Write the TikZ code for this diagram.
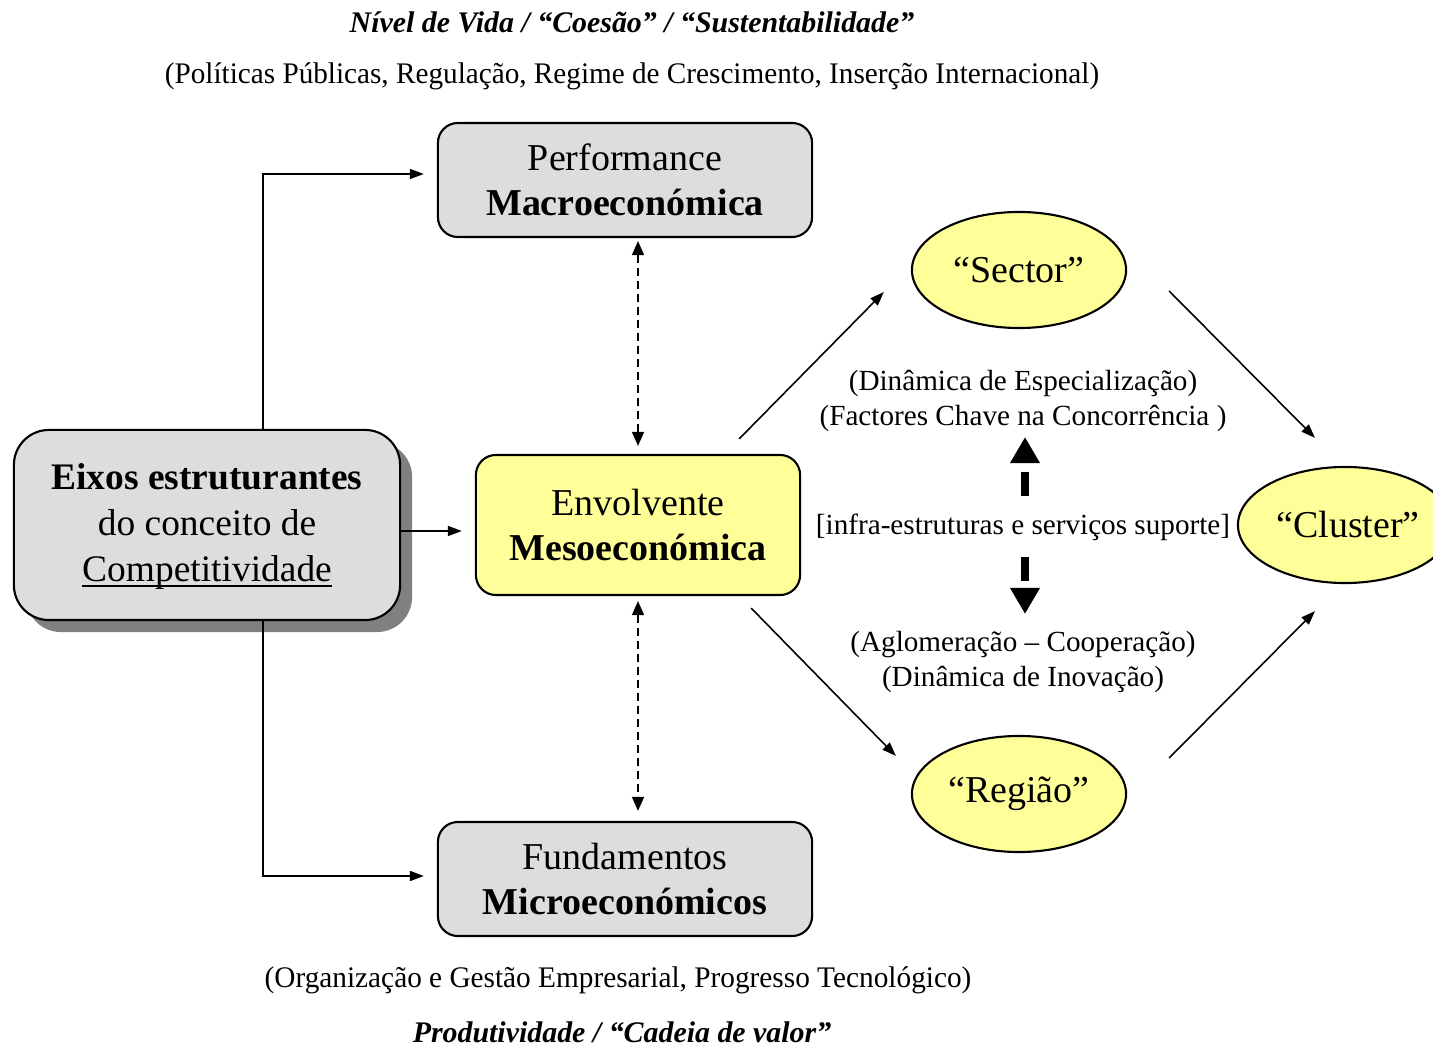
\documentclass[tikz,border=0pt]{standalone}
\usepackage{fontspec}
\setmainfont{Liberation Serif}
\usetikzlibrary{positioning,shapes.geometric,arrows.meta,shadows}

\definecolor{boxgray}{HTML}{DDDDDD}
\definecolor{mesoyellow}{HTML}{FFFF99}
\definecolor{shadowgray}{HTML}{808080}
\newcommand{\boxfont}{\fontsize{10.8}{12.8}\selectfont}
\newcommand{\notefont}{\fontsize{8.3}{10}\selectfont}
\newcommand{\underlined}[1]{\setbox0\hbox{#1}\rlap{\rule[-0.14em]{\wd0}{0.06em}}\box0}

\tikzset{
  block/.style={draw, line width=0.6pt, rounded corners=0.2cm, fill=boxgray,
    minimum width=3.74cm, minimum height=1.14cm, align=center, font=\boxfont, inner sep=0pt},
  blob/.style={draw, ellipse, line width=0.6pt, fill=mesoyellow,
    minimum width=2.14cm, minimum height=1.16cm, inner sep=0pt, font=\boxfont},
  note/.style={align=center, font=\notefont, inner sep=0pt},
  arr/.style={line width=0.45pt, -{Triangle[length=0.14cm,width=0.1cm]}},
  twoway/.style={line width=0.45pt, dash pattern=on 0.08cm off 0.05cm,
    {Triangle[length=0.14cm,width=0.12cm]}-{Triangle[length=0.14cm,width=0.12cm]}},
  bigarrow/.style={line width=0.08cm, dash pattern=on 0.24cm off 1cm,
    -{Triangle[length=0.26cm,width=0.28cm]}}
}

\begin{document}
\begin{tikzpicture}[x=0.01cm,y=-0.01cm]
  \useasboundingbox (0,0) rectangle (1433,1046);
  \clip (0,0) rectangle (1433,1046);

  % Nodes
  \node[note, font=\fontsize{8.5}{10}\selectfont\bfseries\itshape] (vida) at (632,22) {Nível de Vida / “Coesão” / “Sustentabilidade”};
  \node[note, font=\fontsize{8.5}{10}\selectfont] (politicas) at (632,76) {\scalebox{0.977}[1]{(Políticas Públicas, Regulação, Regime de Crescimento, Inserção Internacional)}};

  \node[block] (perf) at (625,180) {Performance\\\textbf{Macroeconómica}};
  \node[block, fill=mesoyellow, minimum width=3.24cm, minimum height=1.40cm] (envol) at (638,525) {Envolvente\\\textbf{Mesoeconómica}};
  \node[block] (fund) at (625,879) {Fundamentos\\\textbf{Microeconómicos}};
  \node[block, rounded corners=0.35cm, minimum width=3.86cm, minimum height=1.90cm,
    drop shadow={shadow xshift=0.12cm, shadow yshift=-0.12cm, fill=shadowgray, opacity=1},
    font=\fontsize{10.65}{13.1}\selectfont] (eixos) at (207,525)
    {\rule{0pt}{0.78em}\textbf{Eixos estruturantes}\\do conceito de\\\underlined{Competitividade}};

  \node[blob] (sector) at (1019,270) {“Sector”};
  \node[blob] (regiao) at (1019,794) {“Região”};
  \node[blob] (cluster) at (1345,525) {\hspace{0.06cm}“Cluster”};

  \node[note] (espec) at (1023,401) {(Dinâmica de Especialização)\\(Factores Chave na Concorrência )};
  \node[note] (infra) at (1023,527) {[infra-estruturas e serviços suporte]};
  \node[note] (aglom) at (1023,662) {(Aglomeração – Cooperação)\\(Dinâmica de Inovação)};

  \node[note, font=\fontsize{8.5}{10}\selectfont] (organizacao) at (618,980) {\scalebox{0.98}[1]{(Organização e Gestão Empresarial, Progresso Tecnológico)}};
  \node[note, font=\fontsize{8.5}{10}\selectfont\bfseries\itshape] (produtividade) at (622,1032) {Produtividade / “Cadeia de valor”};

  \coordinate (upfoot) at (1025,496);
  \coordinate (uptip) at (1025,437);
  \coordinate (downfoot) at (1025,557);
  \coordinate (downtip) at (1025,614);

  % Arrows
  \draw[arr, shorten >=0.13cm] ([xshift=0.56cm]eixos.north) |- ([yshift=0.06cm]perf.west);
  \draw[arr, shorten >=0.13cm] ([xshift=0.56cm]eixos.south) |- ([yshift=0.03cm]fund.west);
  \draw[arr, shorten >=0.13cm] ([yshift=-0.06cm]eixos.east) -- ([yshift=-0.06cm]envol.west);

  \draw[twoway, shorten <=0.03cm, shorten >=0.08cm] (envol.north |- perf.south) -- (envol.north);
  \draw[twoway, shorten <=0.05cm, shorten >=0.1cm] (envol.south) -- (envol.south |- fund.north);

  \draw[arr] ([shift={(-62,-15)}]envol.north east) -- ([shift={(-27,22)}]sector.west);
  \draw[arr] ([shift={(42,21)}]sector.east) -- ([shift={(-30,-28)}]cluster.north);
  \draw[arr] ([shift={(-50,12)}]envol.south east) -- ([shift={(-15,-38)}]regiao.west);
  \draw[arr] ([shift={(42,-36)}]regiao.east) -- ([shift={(-30,27)}]cluster.south);

  \draw[bigarrow] (upfoot) -- (uptip);
  \draw[bigarrow] (downfoot) -- (downtip);
\end{tikzpicture}
\end{document}
